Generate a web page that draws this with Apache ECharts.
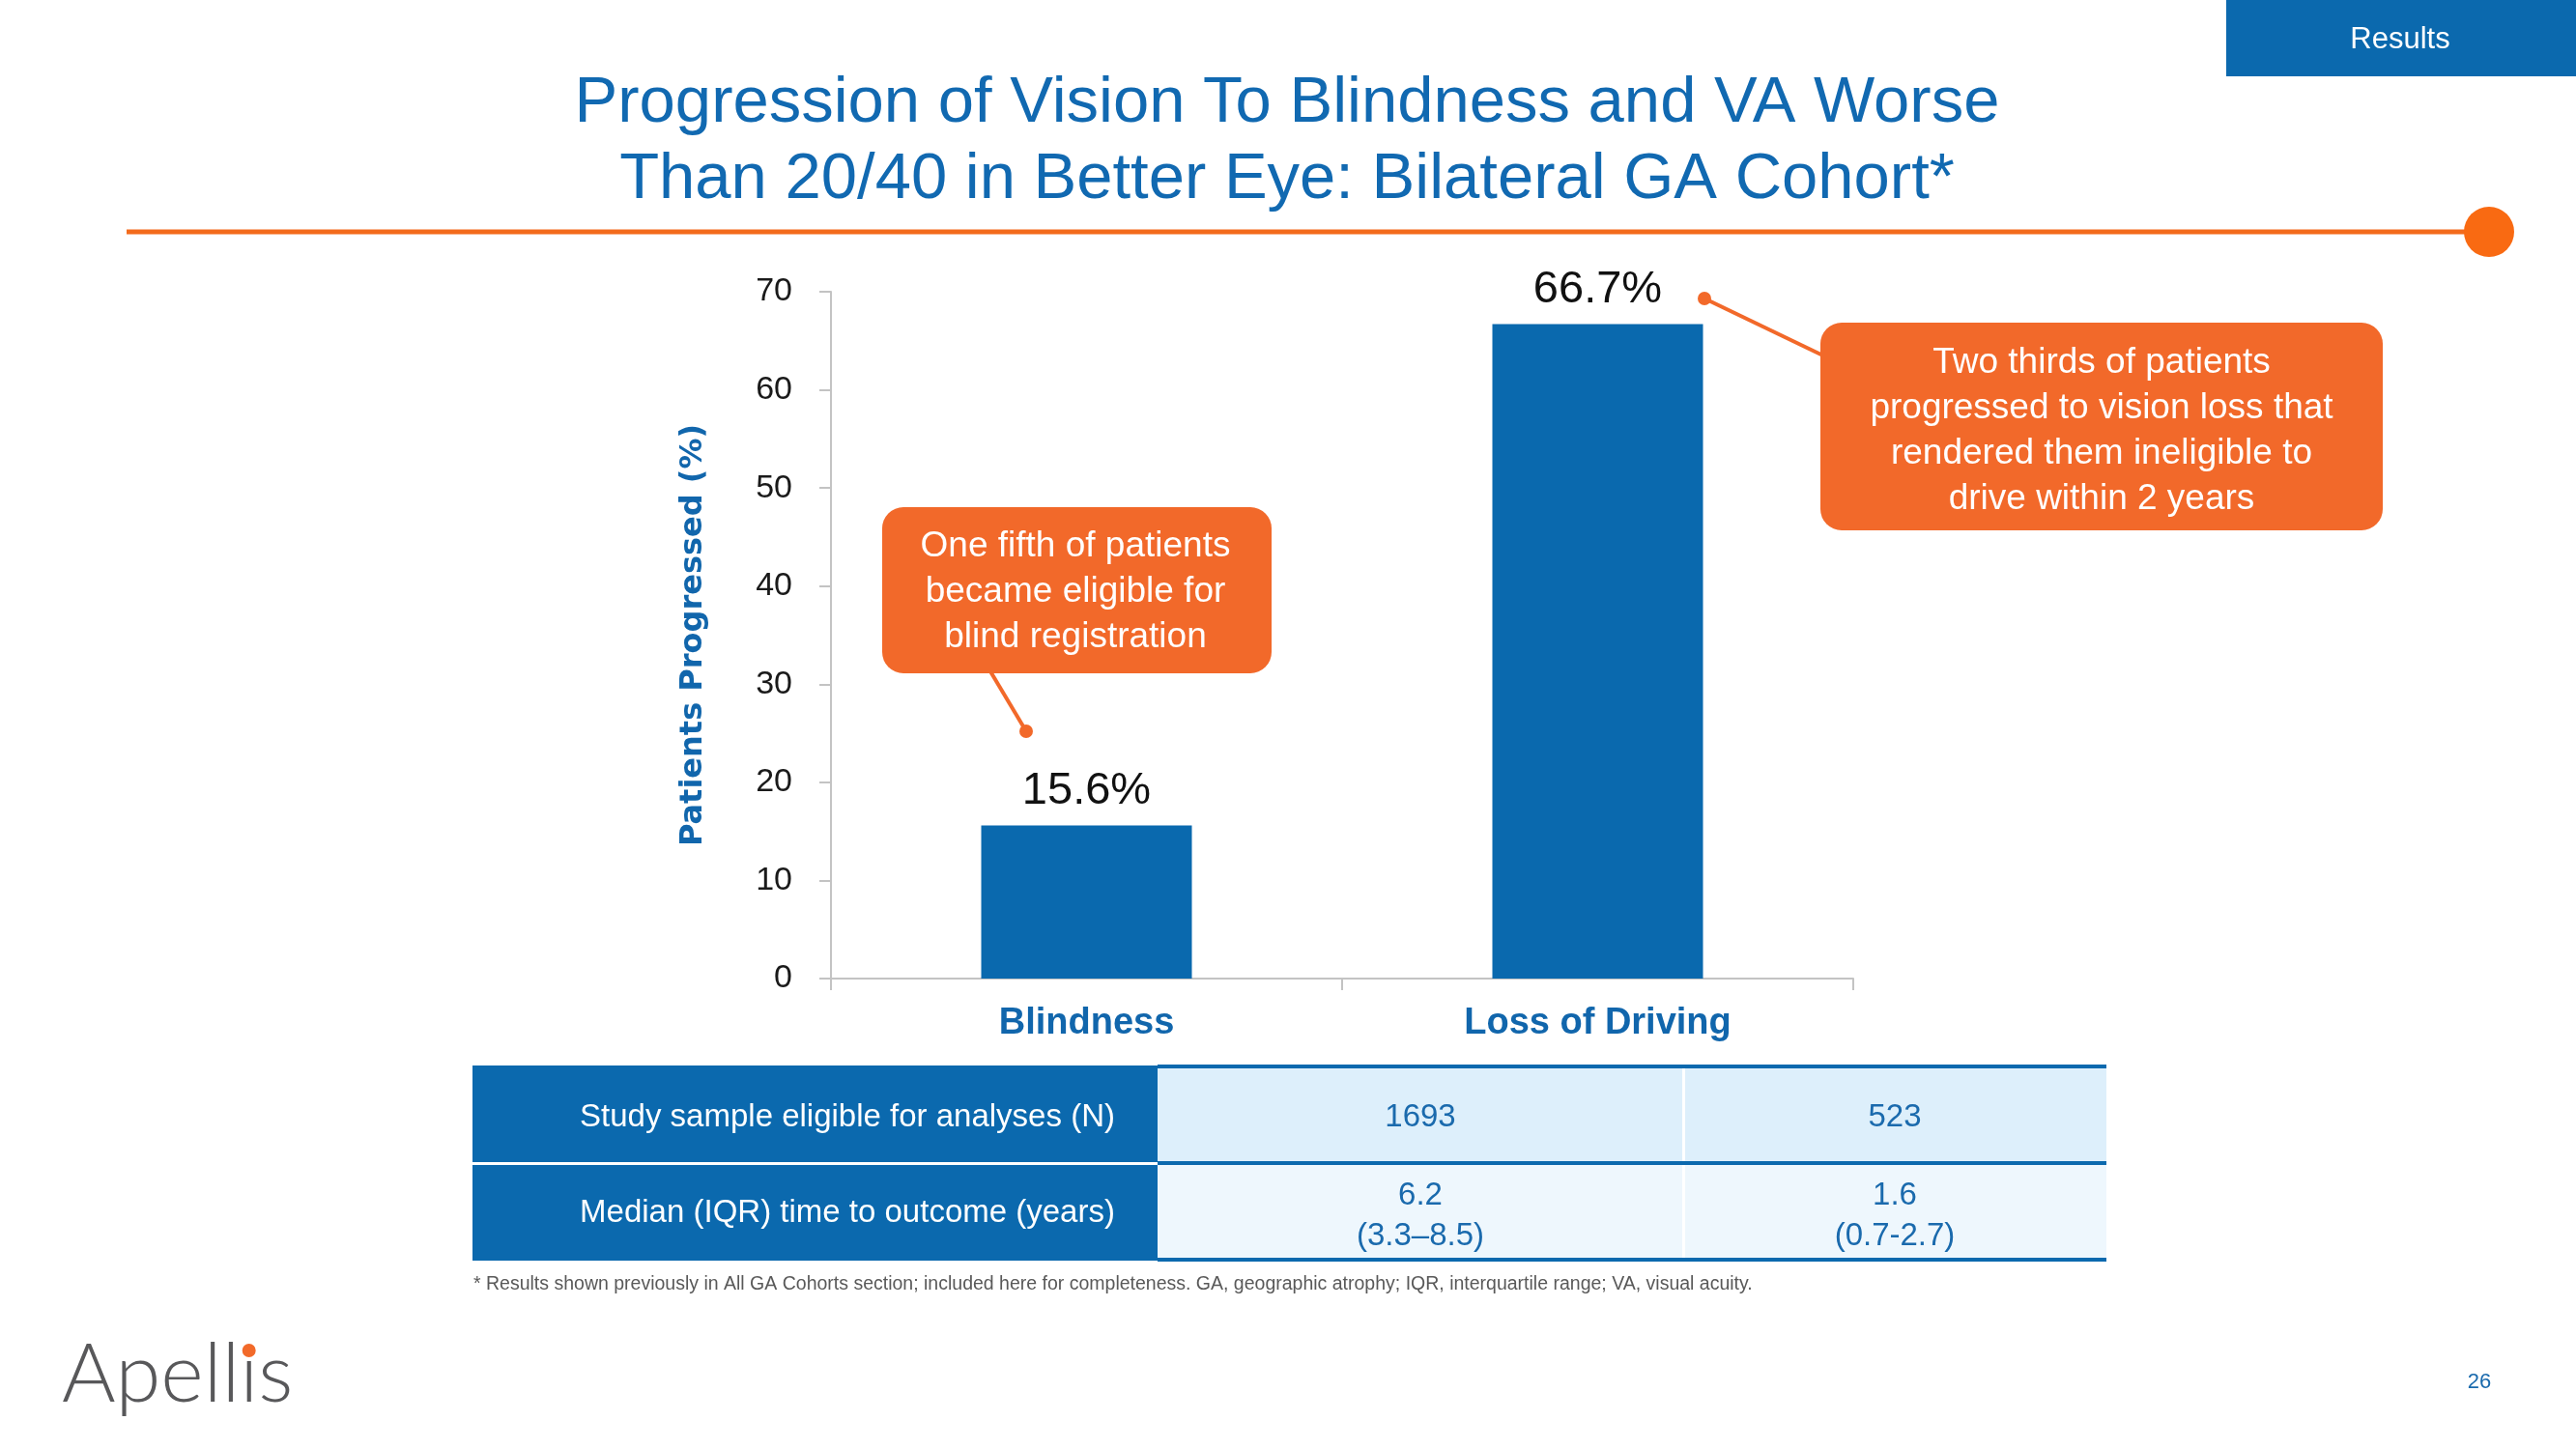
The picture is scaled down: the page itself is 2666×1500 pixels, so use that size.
<!DOCTYPE html>
<html>
<head>
<meta charset="utf-8">
<script src="https://cdn.jsdelivr.net/npm/echarts@6/dist/echarts.min.js"></script>
<style>
html,body{margin:0;padding:0;background:#fff;}
#c{width:2666px;height:1500px;}
</style>
</head>
<body>
<div id="c"></div>
<script>
// ---- data ----
var categories = ['Blindness', 'Loss of Driving'];
var progressed = [15.6, 66.7];
var valueLabels = ['15.6%', '66.7%'];
var yTicks = { min: 0, max: 70, interval: 10 };
var tableRowHeads = ['Study sample eligible for analyses (N)', 'Median (IQR) time to outcome (years)'];
var tableBlindness = ['1693', '6.2\n(3.3\u20138.5)'];
var tableDriving = ['523', '1.6\n(0.7-2.7)'];
var titleLines = ['Progression of Vision To Blindness and VA Worse', 'Than 20/40 in Better Eye: Bilateral GA Cohort*'];
var callout1 = 'One fifth of patients\nbecame eligible for\nblind registration';
var callout2 = 'Two thirds of patients\nprogressed to vision loss that\nrendered them ineligible to\ndrive within 2 years';
var footnote = '* Results shown previously in All GA Cohorts section; included here for completeness. GA, geographic atrophy; IQR, interquartile range; VA, visual acuity.';

var BLUE = '#0b69ae';
var ORANGE = '#f2692a';
var FONT = '"Liberation Sans", Arial, sans-serif';

// logo dot placement (measure the dotless i position)
var LOGO_FONT = '300 85px Lato, ' + FONT;
var LOGO_X = 64;
var mctx = document.createElement('canvas').getContext('2d');
mctx.font = LOGO_FONT;
var dotX = LOGO_X + mctx.measureText('Apell').width + mctx.measureText('\u0131').width / 2;

var chart = echarts.init(document.getElementById('c'), null, { renderer: 'canvas' });

var graphics = [
  // Results tab
  { type: 'rect', shape: { x: 2304, y: 0, width: 362, height: 79 }, style: { fill: BLUE } },
  { type: 'text', x: 2484, y: 41, style: { text: 'Results', fill: '#fff', font: '31px ' + FONT, align: 'center', verticalAlign: 'middle' } },
  // Title
  { type: 'text', x: 1332, y: 108, style: { text: titleLines[0], fill: '#1169b1', font: '67px ' + FONT, align: 'center', verticalAlign: 'middle' } },
  { type: 'text', x: 1332, y: 187, style: { text: titleLines[1], fill: '#1169b1', font: '67px ' + FONT, align: 'center', verticalAlign: 'middle' } },
  // orange rule
  { type: 'line', shape: { x1: 131, y1: 240, x2: 2560, y2: 240 }, style: { stroke: '#f36b1c', lineWidth: 5 } },
  { type: 'circle', shape: { cx: 2576, cy: 240, r: 26 }, style: { fill: '#f96a12' } },
  // callout 1
  { type: 'line', shape: { x1: 1022, y1: 690, x2: 1062, y2: 757 }, style: { stroke: ORANGE, lineWidth: 4 } },
  { type: 'circle', shape: { cx: 1062, cy: 757, r: 7 }, style: { fill: ORANGE } },
  { type: 'rect', shape: { x: 913, y: 525, width: 403, height: 172, r: 22 }, style: { fill: ORANGE } },
  { type: 'text', x: 1113, y: 613, style: { text: callout1, fill: '#fff', font: '37px ' + FONT, align: 'center', verticalAlign: 'middle', lineHeight: 47 } },
  // callout 2
  { type: 'line', shape: { x1: 1764, y1: 309, x2: 1895, y2: 372 }, style: { stroke: ORANGE, lineWidth: 4 } },
  { type: 'circle', shape: { cx: 1764, cy: 309, r: 7 }, style: { fill: ORANGE } },
  { type: 'rect', shape: { x: 1884, y: 334, width: 582, height: 215, r: 22 }, style: { fill: ORANGE } },
  { type: 'text', x: 2175, y: 446, style: { text: callout2, fill: '#fff', font: '37px ' + FONT, align: 'center', verticalAlign: 'middle', lineHeight: 47 } },
  // table
  { type: 'rect', shape: { x: 489, y: 1103, width: 709, height: 202 }, style: { fill: BLUE } },
  { type: 'rect', shape: { x: 489, y: 1203, width: 709, height: 3 }, style: { fill: '#fff' } },
  { type: 'rect', shape: { x: 1198, y: 1106, width: 982, height: 97 }, style: { fill: '#ddeffb' } },
  { type: 'rect', shape: { x: 1198, y: 1206, width: 982, height: 96 }, style: { fill: '#eef7fd' } },
  { type: 'rect', shape: { x: 1198, y: 1102, width: 982, height: 4 }, style: { fill: BLUE } },
  { type: 'rect', shape: { x: 1198, y: 1202, width: 982, height: 4 }, style: { fill: BLUE } },
  { type: 'rect', shape: { x: 1198, y: 1302, width: 982, height: 4 }, style: { fill: BLUE } },
  { type: 'rect', shape: { x: 1741, y: 1106, width: 3, height: 96 }, style: { fill: '#fff' } },
  { type: 'rect', shape: { x: 1741, y: 1206, width: 3, height: 96 }, style: { fill: '#fff' } },
  { type: 'text', x: 877, y: 1157, style: { text: tableRowHeads[0], fill: '#fff', font: '33px ' + FONT, align: 'center', verticalAlign: 'middle' } },
  { type: 'text', x: 877, y: 1256, style: { text: tableRowHeads[1], fill: '#fff', font: '33px ' + FONT, align: 'center', verticalAlign: 'middle' } },
  { type: 'text', x: 1470, y: 1157, style: { text: tableBlindness[0], fill: '#1a6aad', font: '33px ' + FONT, align: 'center', verticalAlign: 'middle' } },
  { type: 'text', x: 1470, y: 1259, style: { text: tableBlindness[1], fill: '#1a6aad', font: '33px ' + FONT, align: 'center', verticalAlign: 'middle', lineHeight: 42 } },
  { type: 'text', x: 1961, y: 1157, style: { text: tableDriving[0], fill: '#1a6aad', font: '33px ' + FONT, align: 'center', verticalAlign: 'middle' } },
  { type: 'text', x: 1961, y: 1259, style: { text: tableDriving[1], fill: '#1a6aad', font: '33px ' + FONT, align: 'center', verticalAlign: 'middle', lineHeight: 42 } },
  // footnote
  { type: 'text', x: 490, y: 1330, style: { text: footnote, fill: '#595959', font: '19.5px ' + FONT, align: 'left', verticalAlign: 'middle' } },
  // logo
  { type: 'text', x: LOGO_X, y: 1424, style: { text: 'Apell\u0131s', fill: '#58585a', font: LOGO_FONT, align: 'left', verticalAlign: 'middle' } },
  { type: 'circle', shape: { cx: dotX, cy: 1398, r: 7 }, style: { fill: '#f26a2a' } },
  // page number
  { type: 'text', x: 2566, y: 1431, style: { text: '26', fill: '#1a6aad', font: '22px ' + FONT, align: 'center', verticalAlign: 'middle' } }
];

var option = {
  backgroundColor: '#ffffff',
  animation: false,
  grid: { left: 860, right: 748, top: 302, bottom: 487, containLabel: false },
  xAxis: {
    type: 'category',
    data: categories,
    boundaryGap: true,
    axisLine: { show: true, lineStyle: { color: '#c3c3c3', width: 2 } },
    axisTick: { show: true, length: 12, lineStyle: { color: '#c3c3c3', width: 2 } },
    axisLabel: { color: '#1166ac', fontFamily: FONT, fontWeight: 'bold', fontSize: 38, margin: 28 },
    splitLine: { show: false }
  },
  yAxis: {
    type: 'value',
    min: yTicks.min, max: yTicks.max, interval: yTicks.interval,
    name: 'Patients Progressed (%)',
    nameLocation: 'middle',
    nameGap: 126,
    nameTextStyle: { color: '#1166ac', fontFamily: '"DejaVu Sans", sans-serif', fontWeight: 'bold', fontSize: 32 },
    axisLine: { show: true, lineStyle: { color: '#c3c3c3', width: 2 } },
    axisTick: { show: true, length: 12, lineStyle: { color: '#c3c3c3', width: 2 } },
    axisLabel: { color: '#1a1a1a', fontFamily: FONT, fontSize: 34, margin: 40 },
    splitLine: { show: false }
  },
  series: [{
    type: 'bar',
    data: progressed,
    barWidth: 218,
    itemStyle: { color: '#0a69ae' },
    label: {
      show: true, position: 'top', distance: 12,
      formatter: function (p) { return valueLabels[p.dataIndex]; },
      color: '#111', fontFamily: FONT, fontSize: 47
    }
  }],
  graphic: graphics
};
chart.setOption(option);
</script>
</body>
</html>
